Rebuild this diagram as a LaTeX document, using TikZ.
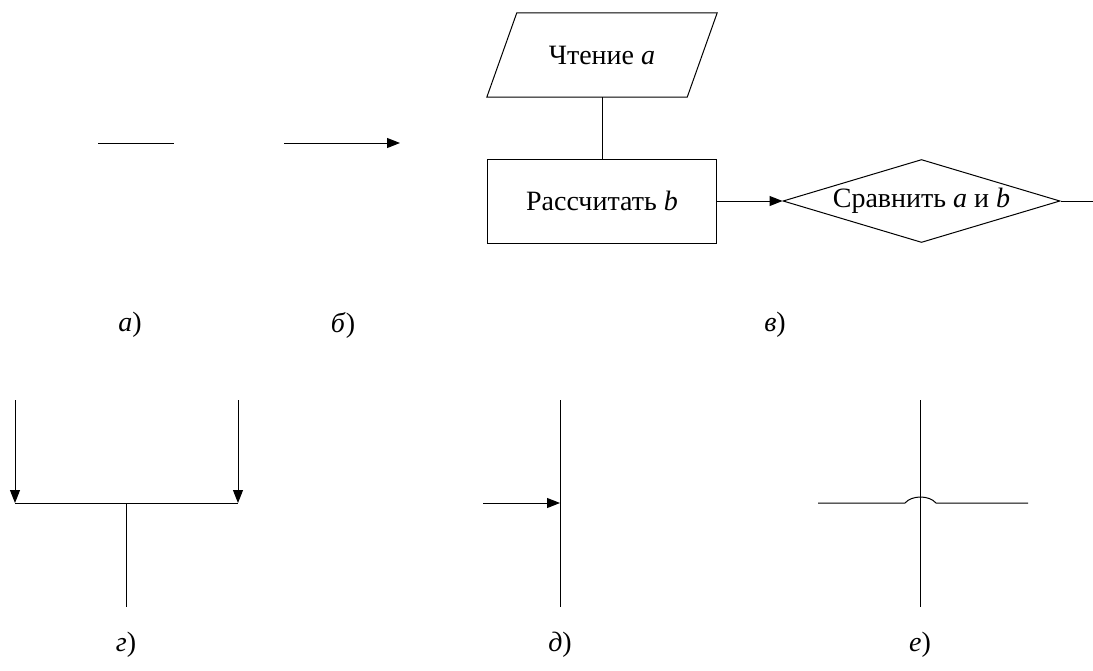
\documentclass[tikz,border=0pt]{standalone}
\usepackage{fontspec}
\setmainfont{Liberation Serif}
\usetikzlibrary{arrows.meta, shapes.geometric, positioning}

\begin{document}
\begin{tikzpicture}[x=1pt, y=-1pt,
  every node/.append style={font=\fontsize{28}{32}\selectfont},
  line/.style={line width=1pt, draw=black},
  arrow/.style={line, -{Triangle[length=13pt, width=10pt]}},
  block/.style={rectangle, draw, line width=1pt, minimum width=229pt,
                minimum height=84pt},
  decision/.style={diamond, draw, line width=1pt, inner sep=0pt, aspect=3.3,
                   minimum width=277pt, minimum height=83pt}
]
\useasboundingbox (0,0) rectangle (1093,670);

% a) and b)
\coordinate (a-l) at (98,143);
\coordinate (a-r) at (174,143);
\coordinate (b-l) at (284,143);
\coordinate (b-r) at (400,143);
\draw[line]  (a-l) -- (a-r);
\draw[arrow] (b-l) -- (b-r);

% v) flowchart fragment
\node (read) at (602,55) [minimum width=200pt, minimum height=84pt] {Чтение \textit{a}};
\draw[line] ([xshift=15pt]read.north west) -- ([xshift=15pt]read.north east)
  -- ([xshift=-15pt]read.south east) -- ([xshift=-15pt]read.south west) -- cycle;

\node[block]    (calc) at (602,201)   {Рассчитать \textit{b}};
\node[decision] (cmp)  at (921.5,201) {Сравнить \textit{a} и \textit{b}};
\coordinate (cmp-out) at (1093,201);

\draw[line]  (read.south) -- (calc.north);
\draw[arrow] (calc.east) -- (cmp.west);
\draw[line]  (cmp.east) -- (cmp-out);

% captions, first row
\node (cap-a) at (130,325) {\textit{а})};
\node (cap-b) at (343,325) {\textit{б})};
\node (cap-v) at (775,325) {\textit{в})};

% g) merging lines
\coordinate (g-tl) at (15,400);
\coordinate (g-bl) at (15,503);
\coordinate (g-tr) at (238,400);
\coordinate (g-br) at (238,503);
\coordinate (g-mid) at (126,503);
\coordinate (g-bot) at (126,607);
\foreach \a/\b in {g-tl/g-bl, g-tr/g-br}
  \draw[arrow] (\a) -- (\b);
\draw[line] (g-bl) -- (g-br);
\draw[line] (g-mid) -- (g-bot);

% d) joining line
\coordinate (d-top) at (560,400);
\coordinate (d-bot) at (560,607);
\coordinate (d-in) at (483,503);
\coordinate (d-join) at (560,503);
\draw[line]  (d-top) -- (d-bot);
\draw[arrow] (d-in) -- (d-join);

% e) crossing lines
\coordinate (e-top) at (920,400);
\coordinate (e-bot) at (920,607);
\coordinate (e-left) at (818,503);
\coordinate (e-right) at (1028,503);
\coordinate (e-br1) at (905,503);
\coordinate (e-br2) at (936,503);
\draw[line] (e-top) -- (e-bot);
\draw[line] (e-left) -- (e-br1) .. controls (912,495) and (929,495) .. (e-br2) -- (e-right);

% captions, second row
\node (cap-g) at (126,645) {\textit{г})};
\node (cap-d) at (560,645) {\textit{д})};
\node (cap-e) at (920,645) {\textit{е})};

\end{tikzpicture}
\end{document}
